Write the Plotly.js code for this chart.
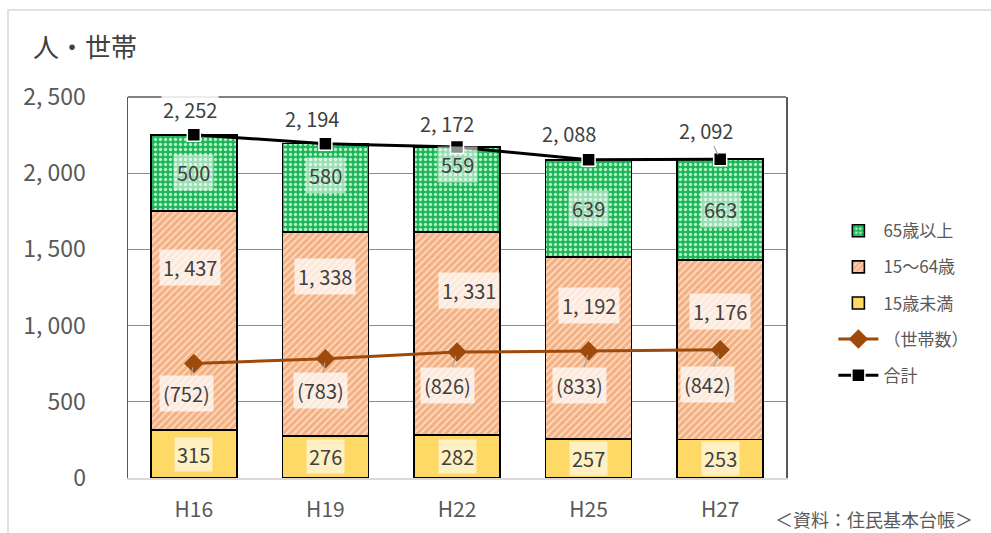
<!DOCTYPE html>
<html>
<head>
<meta charset="utf-8">
<script src="https://cdn.plot.ly/plotly-3.0.1.min.js"></script>
<style>html,body{margin:0;padding:0;background:#fff;}#chart{width:991px;height:533px;}</style>
</head>
<body>
<div id="chart"></div>
<script>
const categories = ['H16', 'H19', 'H22', 'H25', 'H27'];
const under15 = [315, 276, 282, 257, 253];
const age15to64 = [1437, 1338, 1331, 1192, 1176];
const over65 = [500, 580, 559, 639, 663];
const households = [752, 783, 826, 833, 842];
const totals = [2252, 2194, 2172, 2088, 2092];
const yTicks = [0, 500, 1000, 1500, 2000, 2500];

const FONT = '"Noto Sans CJK JP", "Noto Sans", sans-serif';
const TXT = '#595959';
const fmt = n => n.toLocaleString('en-US').replace(',', ', ');

const traces = [
  {type: 'bar', name: '15歳未満', x: categories, y: under15, legendrank: 3, legendgroup: 'c',
   marker: {color: '#ffd966', line: {color: '#000', width: 1.6}}, hoverinfo: 'skip'},
  {type: 'bar', name: '15～64歳', x: categories, y: age15to64, legendrank: 2, legendgroup: 'b',
   marker: {color: '#f4b183', line: {color: '#000', width: 1.6},
     pattern: {shape: '/', bgcolor: '#f4b183', fgcolor: 'rgba(255,236,220,0.8)', size: 5, solidity: 0.3, fillmode: 'replace'}}, hoverinfo: 'skip'},
  {type: 'bar', name: '65歳以上', x: categories, y: over65, legendrank: 1, legendgroup: 'a',
   marker: {color: '#1fb45a', line: {color: '#000', width: 1.6},
     pattern: {shape: '.', bgcolor: '#1fb45a', fgcolor: 'rgba(190,250,205,0.9)', size: 5, solidity: 0.35, fillmode: 'replace'}}, hoverinfo: 'skip'},
  {type: 'scatter', mode: 'lines+markers', name: '（世帯数）', x: categories, y: households, legendrank: 4, legendgroup: 'd',
   line: {color: '#9e4a0b', width: 3}, marker: {symbol: 'diamond', size: 15, color: '#9e4a0b'}, hoverinfo: 'skip'},
  {type: 'scatter', mode: 'lines+markers', name: '合計', x: categories, y: totals, legendrank: 5, legendgroup: 'e',
   line: {color: '#000', width: 3}, marker: {symbol: 'square', size: 13, color: '#000', line: {color: '#fff', width: 1.5}}, hoverinfo: 'skip'}
];

const annotations = [];
const labelFont = {family: FONT, size: 20, color: '#404040'};
// 15歳未満 labels (segment centre)
under15.forEach((v, i) => annotations.push({x: categories[i], y: v / 2, text: fmt(v), showarrow: false,
  font: labelFont, bgcolor: 'rgba(255,255,255,0.6)', borderpad: 2}));
// 15～64歳 labels
const midShiftY = [53, 57, 43, 43, 38];
const midShiftX = [-4, 0, 12, 0, 0];
age15to64.forEach((v, i) => annotations.push({x: categories[i], y: under15[i] + v / 2, text: fmt(v), showarrow: false,
  yshift: midShiftY[i], xshift: midShiftX[i], font: labelFont, bgcolor: 'rgba(255,255,255,0.72)', borderpad: 3}));
// 65歳以上 labels
const topShiftY = [0, 12, 25, 0, 0];
over65.forEach((v, i) => annotations.push({x: categories[i], y: under15[i] + age15to64[i] + v / 2, text: fmt(v), showarrow: false,
  yshift: topShiftY[i], font: labelFont, bgcolor: 'rgba(255,255,255,0.55)', borderpad: 3}));
// households labels with leader lines
const hhAx = [-7, -5, -10, -9, -13];
const hhAy = [30, 32, 33, 34, 35];
households.forEach((v, i) => annotations.push({x: categories[i], y: v, text: '(' + fmt(v) + ')', showarrow: true,
  arrowhead: 0, arrowwidth: 1.2, arrowcolor: '#a6a6a6', ax: hhAx[i], ay: hhAy[i], standoff: 4,
  font: labelFont, bgcolor: 'rgba(255,255,255,0.72)', borderpad: 3}));
// totals labels
const tAx = [-4, -13, -10, -20, -14];
const tAy = [-25, -25, -23, -26, -29];
totals.forEach((v, i) => annotations.push({x: categories[i], y: v, text: fmt(v), showarrow: true,
  arrowhead: 0, arrowwidth: 1.2, arrowcolor: i === 4 ? '#a6a6a6' : 'rgba(0,0,0,0)', ax: tAx[i], ay: tAy[i], standoff: 5,
  font: labelFont, bgcolor: 'rgba(255,255,255,0.85)', borderpad: 1}));
// source
annotations.push({xref: 'paper', yref: 'paper', x: 1.287, y: -0.108, xanchor: 'right', yanchor: 'middle',
  text: '＜資料：住民基本台帳＞', showarrow: false, font: {family: FONT, size: 18, color: TXT}});

const layout = {
  width: 991, height: 533,
  margin: {l: 128, r: 205, t: 97, b: 55},
  paper_bgcolor: '#fff', plot_bgcolor: '#fff',
  font: {family: FONT, color: TXT},
  title: {text: '人・世帯', x: 33 / 991, xanchor: 'left', y: 1 - 48 / 533, yanchor: 'middle',
    font: {family: FONT, size: 26, color: '#404040'}},
  barmode: 'stack', bargap: 0.347,
  showlegend: true,
  legend: {x: 1.072, xanchor: 'left', y: 0.695, yanchor: 'top', traceorder: 'grouped', tracegroupgap: 11,
    font: {family: FONT, size: 17, color: TXT}, bgcolor: 'rgba(0,0,0,0)', itemwidth: 40},
  xaxis: {type: 'category', showgrid: false, zeroline: false, showline: true, linecolor: '#d9d9d9', linewidth: 2,
    ticks: '', tickfont: {family: FONT, size: 21, color: TXT}, ticklabelstandoff: 12, fixedrange: true},
  yaxis: {range: [0, 2500], tickvals: yTicks, ticktext: yTicks.map(fmt), showgrid: true, gridcolor: '#8c8c8c', gridwidth: 1,
    zeroline: false, showline: true, mirror: true, linecolor: '#595959', linewidth: 1.5, ticks: '',
    tickfont: {family: FONT, size: 23, color: TXT}, ticklabelstandoff: 36, fixedrange: true},
  shapes: [
    {type: 'line', xref: 'paper', yref: 'paper', x0: 0, x1: 1, y0: 1, y1: 1, line: {color: '#595959', width: 1.5}},
    {type: 'rect', xref: 'paper', yref: 'paper', x0: (8 - 128) / 658, x1: (1000 - 128) / 658, y0: (478 - 545) / 381, y1: (478 - 10) / 381,
      line: {color: '#d9d9d9', width: 1.5}, fillcolor: 'rgba(0,0,0,0)', layer: 'below'}
  ],
  annotations: annotations
};

Plotly.newPlot('chart', traces, layout, {staticPlot: true, displayModeBar: false});
</script>
</body>
</html>
